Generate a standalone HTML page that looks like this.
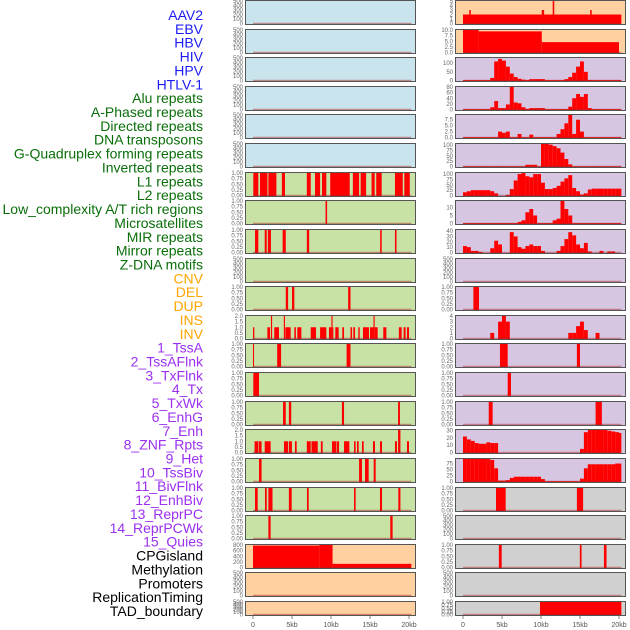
<!DOCTYPE html>
<html><head><meta charset="utf-8">
<style>
html,body{margin:0;padding:0;background:#fff;}
svg{display:block;font-family:"Liberation Sans",sans-serif;}
</style></head>
<body>
<svg id="chart" width="630" height="630" viewBox="0 0 630 630" xmlns="http://www.w3.org/2000/svg"></svg>
<script>
// ---------- labels ----------
const trackLabels = ["AAV2","EBV","HBV","HIV","HPV","HTLV-1","Alu repeats","A-Phased repeats","Directed repeats","DNA transposons","G-Quadruplex forming repeats","Inverted repeats","L1 repeats","L2 repeats","Low_complexity A/T rich regions","Microsatellites","MIR repeats","Mirror repeats","Z-DNA motifs","CNV","DEL","DUP","INS","INV","1_TssA","2_TssAFlnk","3_TxFlnk","4_Tx","5_TxWk","6_EnhG","7_Enh","8_ZNF_Rpts","9_Het","10_TssBiv","11_BivFlnk","12_EnhBiv","13_ReprPC","14_ReprPCWk","15_Quies","CPGisland","Methylation","Promoters","ReplicationTiming","TAD_boundary"];
const labelGroups = ["v","v","v","v","v","v","r","r","r","r","r","r","r","r","r","r","r","r","r","s","s","s","s","s","c","c","c","c","c","c","c","c","c","c","c","c","c","c","c","o","o","o","o","o"];
const xTickValues = [0,5,10,15,20];
const xTickLabels = ["0","5kb","10kb","15kb","20kb"];

// ---------- middle column data (interval tracks, [start kb, end kb, value]) ----------
const midL1 = [[0.04,0.68,1],[0.9,1.85,1],[1.97,3.0,1],[3.7,4.1,1],[6.9,7.4,1],[7.95,8.6,1],[8.85,9.4,1],[9.9,12.4,1],[12.8,13.6,1],[13.8,14.5,1],[15.2,15.6,1],[15.8,16.5,1],[18.2,19.2,1],[19.4,20.1,1]];
const midLow = [[9.3,9.5,1]];
const midMIR = [[0.26,0.68,1],[1.5,1.76,1],[1.9,2.3,1],[3.8,4.2,1],[6.9,7.2,1],[16.3,16.5,1],[18.2,18.4,1]];
const midDEL = [[4.2,4.5,1],[5.0,5.3,1],[12.2,12.5,1]];
const midINS = [[0,0.17,1],[1.84,2.18,1],[2.3,2.45,2],[2.73,3.33,1],[3.95,4.1,2],[4.14,4.83,1],[5.3,5.5,1],[5.68,6.2,1],[7.4,8.08,1],[8.6,9.4,1],[9.74,10.05,1],[10.05,10.2,2],[10.2,10.3,1],[10.55,10.98,1],[11.45,11.67,1],[12.5,12.7,1],[12.86,13.08,1],[13.5,13.68,1],[14.1,14.87,1],[15.0,15.45,1],[15.45,15.6,2],[15.6,15.98,1],[16.7,17.1,1],[18.7,19.06,1],[19.31,19.57,1],[19.74,20.0,1]];
const midTssA = [[0,0.13,1],[3.1,3.6,1],[12.0,12.5,1]];
const midTssAFlnk = [[0.04,0.77,1]];
const midTxFlnk = [[3.85,4.2,1],[4.6,4.9,1],[11.4,11.67,1],[18.6,18.84,1]];
const midTxWk = [[0.2,0.7,1],[0.77,1.1,1],[1.5,2.26,1],[3.97,4.5,1],[4.6,4.99,1],[5.38,5.6,1],[6.9,7.4,1],[7.5,8.3,1],[8.7,8.93,1],[10.13,10.7,1],[10.77,11.03,1],[11.67,12.35,1],[12.95,13.16,1],[13.33,13.55,1],[13.97,14.19,1],[15.38,15.64,1],[16.28,16.54,1],[18.2,18.46,1],[18.6,18.9,2],[19.74,20.0,1]];
const midEnhG = [[0.77,1.1,1],[13.6,13.97,1],[14.36,14.83,1],[15.47,15.73,1]];
const midEnh = [[0.26,0.6,1],[1.54,1.76,1],[1.97,2.5,1],[4.6,4.96,1],[6.92,7.14,1],[12.95,13.16,1],[16.28,16.54,1],[18.63,18.9,1]];
const midZNF = [[1.97,2.26,1],[17.6,17.9,1]];
const midCPG = [[0,8.5,780],[8.5,10.2,800],[10.2,20.3,130]];

// ---------- right column data ----------
const rightAAV2 = [[0,20.3,2],[0.8,1.0,3],[10.1,10.4,3],[11.5,11.7,5],[16.3,16.5,3]];
const rightEBV = [[0,2.0,10],[2.0,10.1,9.4],[10.1,20.0,4.6]];
const histHIV = [2,2,2,2,2,2,2,15,110,125,115,80,40,20,10,5,2,8,8,8,8,2,2,2,2,2,8,20,45,80,110,50,3,2,2,2,2,2,2,2,2];
const histAlu = [1,1,1,1,1,1,1,8,30,5,5,18,80,25,22,8,2,5,5,5,5,1,1,1,1,1,1,10,40,55,45,55,5,1,1,1,1,1,1,1,1];
const histAPhased = [0.1,0.1,0.1,0.1,0.1,0.1,0.1,0.1,0.1,2.5,2,2.5,0.1,0.1,1.5,0.1,0.1,1.2,0.1,0.1,0.1,0.1,0.1,0.1,1.5,3.5,6,9.5,1.5,7.5,2.5,0.1,0.1,0.1,0.1,0.1,0.1,0.1,0.1,0.1,0.1];
const histDirected = [0.5,0.5,0.5,0.5,0.5,0.5,0.5,0.5,0.5,0.5,0.5,0.5,0.5,0.5,0.5,0.5,8,8,8,0.5,105,105,102,95,85,65,35,10,0.5,0.5,0.5,0.5,0.5,0.5,0.5,0.5,0.5,0.5,0.5,0.5,0.5];
const histDNA = [15,20,25,25,25,25,25,20,10,0,0,3,30,70,100,105,90,85,100,100,60,30,30,35,45,65,80,95,35,20,5,10,28,32,32,32,32,32,32,32,32];
const histGQuad = [0.2,0.2,0.2,0.2,0.2,0.2,0.2,0.2,0.2,0.2,0.2,0.2,0.2,0.2,1,2,7,9,5,0.2,0.2,0.2,0.2,2,3,14,9,5,0.2,0.2,0.2,0.2,0.2,0.2,0.2,0.2,0.2,0.2,0.2,0.2,0.2];
const histInverted = [12,10,3,3,1,0,0,8,22,15,0,0,38,30,10,7,12,15,12,12,3,0,0,0,3,12,25,38,32,15,8,18,2,0,0,3,0,2,2,0,0];
const rightL2 = [[1.33,2.05,1]];
const histLowComplex = [0,0,0,0,0,0,0,1,0,3,4,3,0,0,0,0,0,0,0,0,0,0,0,0,0,0,0,1,1,2.2,3,1.5,0,0,1,0,0,0,0,0,0];
const rightMicro = [[4.74,5.73,1],[14.6,15.0,1]];
const rightMIR = [[5.73,6.15,1]];
const rightMirror = [[3.3,3.8,1],[17.0,17.8,1]];
const histZDNA = [22,18,16,13,12,12,14,13,13,0,0,0,0,0,0,0,0,0,0,0,0,0,0,0,0,0,0,0,0,0,5,28,31,31,31,31,31,30,29,28,27];
const histCNV = [94,94,94,94,94,94,94,90,55,4,4,6,15,20,20,20,20,20,20,20,10,1,1,1,1,1,1,1,1,1,12,55,72,72,72,72,72,72,72,75,75];
const rightDEL = [[4.23,5.47,1],[14.6,15.4,1]];
const rightINS = [[4.6,4.96,1],[14.98,15.2,1],[18.07,18.4,1]];
const rightINV = [[9.87,20.3,1]];

// ---------- layout ----------
const svg = document.getElementById('chart');
const NS = 'http://www.w3.org/2000/svg';
const panelTops = []; for (let i=0;i<22;i++) panelTops.push(Math.round(i*28.62));
const COL = {blue:'#c9e4ec', green:'#c8e1a5', orange:'#ffd0a0', purple:'#d6c6e2', gray:'#d0d0d0'};
const midX0 = 253, rightX0 = 463, kbPx = 7.8;
function xScale(col, kb){ return (col==='m'?midX0:rightX0) + kb*kbPx; }

function mk(tag, attrs, parent){
  const e = document.createElementNS(NS, tag);
  for (const k in attrs) e.setAttribute(k, attrs[k]);
  (parent||svg).appendChild(e); return e;
}

// left labels
const labelColor = {v:'#1c1cf5', r:'#0a6e0a', s:'#ffa500', c:'#9b30f0', o:'#000'};
trackLabels.forEach((t,i)=>{
  const el = mk('text',{x:203,y:(15+i*13.86+5).toFixed(1),'text-anchor':'end','font-size':'14',fill:labelColor[labelGroups[i]]});
  el.textContent = t;
  
  
});

function panel(col, idx, bg, ymax, ticks, tickFmt, intervals, hist){
  const t = panelTops[idx];
  const h = idx===21 ? 15 : 25;
  const px = col==='m'?245:455;
  const g = mk('g',{});
  
  
  mk('rect',{x:px,y:t,width:171,height:h,fill:bg},g);
  const base = t+h-1.5, span = h-2.5;
  const yS = v => base - v/ymax*span;
  if (intervals) intervals.forEach(s=>{
    const r = mk('rect',{x:xScale(col,s[0]),y:yS(s[2]),width:Math.max(0.8,(s[1]-s[0])*kbPx),height:base-yS(s[2])+0.5,fill:'#ff0000'},g);
    
    
  });
  if (hist) hist.forEach((v,i)=>{
    if (v<=0) return;
    const a = i*0.5, b = Math.min(20.3, i*0.5+0.5);
    const r = mk('rect',{x:xScale(col,a),y:yS(v),width:(b-a)*kbPx,height:base-yS(v)+0.5,fill:'#ff0000'},g);
    
    
  });
  mk('line',{x1:xScale(col,0),x2:xScale(col,20.3),y1:base,y2:base,stroke:'rgba(170,30,30,0.45)','stroke-width':1.5},g);
  mk('rect',{x:px+0.5,y:t+0.5,width:170,height:h-1,fill:'none',stroke:'#555','stroke-width':1},g);
  ticks.forEach(v=>{
    const tx = mk('text',{x:px-2,y:(yS(v)+2).toFixed(1),'text-anchor':'end','font-size':'6',fill:'#666'},g);
    tx.textContent = tickFmt(v);
  });
}
const f2 = v=>v.toFixed(2), f1 = v=>v.toFixed(1), f0 = v=>String(v);
const T500 = [0,100,200,300,400,500], T1 = [0,0.25,0.5,0.75,1], T2=[0,0.5,1,1.5,2];

// middle column
for (let i=0;i<6;i++) panel('m',i,COL.blue,500,T500,f0,null,null);
panel('m',6,COL.green,1,T1,f2,midL1);
panel('m',7,COL.green,1,T1,f2,midLow);
panel('m',8,COL.green,1,T1,f2,midMIR);
panel('m',9,COL.green,500,T500,f0,null);
panel('m',10,COL.green,1,T1,f2,midDEL);
panel('m',11,COL.green,2,T2,f1,midINS);
panel('m',12,COL.green,1,T1,f2,midTssA);
panel('m',13,COL.green,1,T1,f2,midTssAFlnk);
panel('m',14,COL.green,1,T1,f2,midTxFlnk);
panel('m',15,COL.green,2,T2,f1,midTxWk);
panel('m',16,COL.green,1,T1,f2,midEnhG);
panel('m',17,COL.green,1,T1,f2,midEnh);
panel('m',18,COL.green,1,T1,f2,midZNF);
panel('m',19,COL.orange,800,[0,200,400,600,800],f0,midCPG);
panel('m',20,COL.orange,500,T500,f0,null);
panel('m',21,COL.orange,500,T500,f0,null);

// right column
panel('r',0,COL.orange,5,[0,1,2,3,4,5],f0,rightAAV2);
panel('r',1,COL.orange,10,[0,2.5,5,7.5,10],f1,rightEBV);
panel('r',2,COL.purple,130,[0,50,100],f0,null,histHIV);
panel('r',3,COL.purple,80,[0,20,40,60,80],f0,null,histAlu);
panel('r',4,COL.purple,9.5,[0,2.5,5,7.5],f1,null,histAPhased);
panel('r',5,COL.purple,105,[0,25,50,75,100],f0,null,histDirected);
panel('r',6,COL.purple,105,[0,25,50,75,100],f0,null,histDNA);
panel('r',7,COL.purple,14,[0,5,10],f0,null,histGQuad);
panel('r',8,COL.purple,42,[0,10,20,30,40],f0,null,histInverted);
panel('r',9,COL.purple,500,T500,f0,null);
panel('r',10,COL.purple,1,T1,f2,rightL2);
panel('r',11,COL.purple,4,[0,1,2,3,4],f0,null,histLowComplex);
panel('r',12,COL.purple,1,T1,f2,rightMicro);
panel('r',13,COL.purple,1,T1,f2,rightMIR);
panel('r',14,COL.purple,1,T1,f2,rightMirror);
panel('r',15,COL.purple,31,[0,10,20,30],f0,null,histZDNA);
panel('r',16,COL.purple,94,[0,25,50,75],f0,null,histCNV);
panel('r',17,COL.gray,1,T1,f2,rightDEL);
panel('r',18,COL.gray,500,T500,f0,null);
panel('r',19,COL.gray,1,T1,f2,rightINS);
panel('r',20,COL.gray,500,T500,f0,null);
panel('r',21,COL.gray,1,T1,f2,rightINV);

// x axes
['m','r'].forEach(col=>{
  xTickValues.forEach((v,i)=>{
    const x = xScale(col,v);
    mk('line',{x1:x,x2:x,y1:616,y2:619,stroke:'#666','stroke-width':0.8});
    const tx = mk('text',{x:x,y:627,'text-anchor':'middle','font-size':'7',fill:'#555'});
    tx.textContent = xTickLabels[i];
    
    
  });
});
</script>
</body></html>
